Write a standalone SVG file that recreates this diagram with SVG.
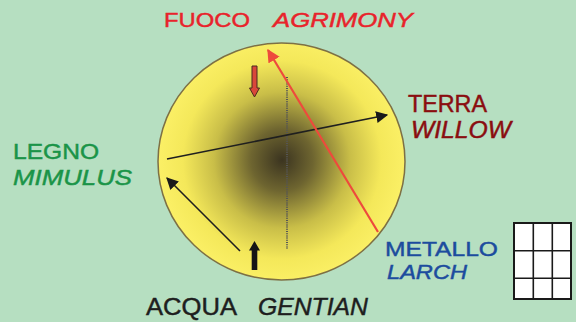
<svg xmlns="http://www.w3.org/2000/svg" width="576" height="322" viewBox="0 0 576 322">
<defs>
<radialGradient id="ball" cx="282" cy="160" r="124" gradientUnits="userSpaceOnUse">
<stop offset="0" stop-color="#3b3420"/>
<stop offset="0.25" stop-color="#6e6530"/>
<stop offset="0.55" stop-color="#c9be48"/>
<stop offset="0.8" stop-color="#f4e85a"/>
<stop offset="1" stop-color="#fbf066"/>
</radialGradient>
<marker id="ahBlackL" viewBox="0 0 10 10" refX="9" refY="5" markerWidth="12" markerHeight="12" orient="auto" markerUnits="userSpaceOnUse">
<path d="M0,0 L10,5 L0,10 z" fill="#1a1a1a"/>
</marker>
<marker id="ahRed" viewBox="0 0 10 10" refX="9" refY="5" markerWidth="13" markerHeight="13" orient="auto" markerUnits="userSpaceOnUse">
<path d="M0,0 L10,5 L0,10 z" fill="#ee4a3c"/>
</marker>
</defs>
<style>
text { font-family: "Liberation Sans", "DejaVu Sans", sans-serif; stroke-width: 0.45; }
.it { font-style: italic; }
.ln { fill: none; stroke-linecap: butt; }
.grid { fill: none; stroke: #1a1a1a; stroke-width: 1.6; }
.red { fill: #e8232b; stroke: #e8232b; }
.green { fill: #1a9448; stroke: #1a9448; }
.brown { fill: #8a0d10; stroke: #8a0d10; }
.blue { fill: #1c4c9e; stroke: #1c4c9e; }
.dark { fill: #1e1e1e; stroke: #1e1e1e; }
</style>
<rect x="0" y="0" width="576" height="322" fill="#b6dfc1"/>
<g id="ball-node">
<ellipse cx="281.5" cy="161.5" rx="123.5" ry="118.5" fill="url(#ball)" stroke="#7d7044" stroke-width="1.5"/>
</g>
<g id="connectors">
<line x1="287" y1="77" x2="287" y2="249" stroke="#555" stroke-width="2" stroke-dasharray="1 1.2"/>
<line class="ln" x1="167" y1="159" x2="387" y2="115" stroke="#1f1f1f" stroke-width="1.6" marker-end="url(#ahBlackL)"/>
<line class="ln" x1="240" y1="251" x2="167" y2="178" stroke="#1f1f1f" stroke-width="1.6" marker-end="url(#ahBlackL)"/>
<line class="ln" x1="378" y1="232" x2="268" y2="50" stroke="#ee4a3c" stroke-width="2.2" marker-end="url(#ahRed)"/>
<path d="M252,66 L257,66 L257,88 L259.5,88 L254.5,97 L249.5,88 L252,88 z" fill="#d9473a" stroke="#4a2a20" stroke-width="1"/>
<path d="M254.5,241 L260,250.5 L257.3,250.5 L257.3,270 L251.7,270 L251.7,250.5 L249,250.5 z" fill="#151515"/>
</g>
<g id="fuoco">
<text x="164" y="27" font-size="21" class="red" textLength="86" lengthAdjust="spacingAndGlyphs">FUOCO</text>
<text x="273" y="27" font-size="21" class="red it" textLength="140" lengthAdjust="spacingAndGlyphs">AGRIMONY</text>
</g>
<g id="legno">
<text x="13" y="159" font-size="21.5" class="green" textLength="86" lengthAdjust="spacingAndGlyphs">LEGNO</text>
<text x="13" y="185" font-size="21.5" class="green it" textLength="119" lengthAdjust="spacingAndGlyphs">MIMULUS</text>
</g>
<g id="terra">
<text x="408" y="112" font-size="23" class="brown" textLength="79" lengthAdjust="spacingAndGlyphs">TERRA</text>
<text x="411" y="138" font-size="23" class="brown it" textLength="100" lengthAdjust="spacingAndGlyphs">WILLOW</text>
</g>
<g id="metallo">
<text x="385" y="255.5" font-size="21" class="blue" textLength="113" lengthAdjust="spacingAndGlyphs">METALLO</text>
<text x="387" y="278.5" font-size="21" class="blue it" textLength="80" lengthAdjust="spacingAndGlyphs">LARCH</text>
</g>
<g id="acqua">
<text x="146" y="315" font-size="24" class="dark" textLength="91" lengthAdjust="spacingAndGlyphs">ACQUA</text>
<text x="258" y="315" font-size="24" class="dark it" textLength="110" lengthAdjust="spacingAndGlyphs">GENTIAN</text>
</g>
<g id="grid-icon">
<rect x="514" y="223" width="57" height="76" fill="#ffffff" stroke="#1a1a1a" stroke-width="2"/>
<line class="grid" x1="533.3" y1="223" x2="533.3" y2="299"/>
<line class="grid" x1="552.3" y1="223" x2="552.3" y2="299"/>
<line class="grid" x1="514" y1="250.7" x2="571" y2="250.7"/>
<line class="grid" x1="514" y1="278.3" x2="571" y2="278.3"/>
</g>
</svg>
